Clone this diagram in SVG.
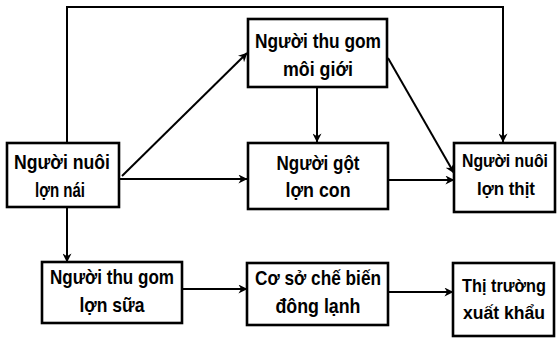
<svg xmlns="http://www.w3.org/2000/svg" width="557" height="339" viewBox="0 0 557 339">
<defs>
<style>
.box{fill:#fff;stroke:#000;stroke-width:2.6}
.t{font-family:"Liberation Sans",Arial,sans-serif;font-weight:bold;font-size:21px;fill:#000;text-anchor:middle}
.s{font-size:17.5px}
.c{fill:none;stroke:#000;stroke-width:2}
</style>
<marker id="ah" viewBox="0 0 10 10" refX="9.5" refY="5" markerWidth="9" markerHeight="9" markerUnits="userSpaceOnUse" orient="auto">
<path d="M0,0 L10,5 L0,10 L3,5 Z" fill="#000"/>
</marker>
</defs>
<rect width="557" height="339" fill="#fff"/>
<g id="connectors">
<path class="c" d="M67,143 V7 H503 V142" marker-end="url(#ah)"/>
<path class="c" d="M122,176 L247,53" marker-end="url(#ah)"/>
<path class="c" d="M317,87 V142" marker-end="url(#ah)"/>
<path class="c" d="M388,58 L454,173" marker-end="url(#ah)"/>
<path class="c" d="M119,179 H247" marker-end="url(#ah)"/>
<path class="c" d="M388,180 H454" marker-end="url(#ah)"/>
<path class="c" d="M67,207 V262" marker-end="url(#ah)"/>
<path class="c" d="M182,289 H247" marker-end="url(#ah)"/>
<path class="c" d="M388,292 H453" marker-end="url(#ah)"/>
</g>
<g id="n1">
<rect class="box" x="7" y="143" width="112" height="64"/>
<text class="t" x="62" y="169" textLength="96" lengthAdjust="spacingAndGlyphs">Người nuôi</text>
<text class="t" x="60" y="197" textLength="50" lengthAdjust="spacingAndGlyphs">lợn nái</text>
</g>
<g id="n2">
<rect class="box" x="248" y="19" width="139" height="68"/>
<text class="t" x="318" y="48" textLength="126" lengthAdjust="spacingAndGlyphs">Người thu gom</text>
<text class="t" x="318" y="76" textLength="70" lengthAdjust="spacingAndGlyphs">môi giới</text>
</g>
<g id="n3">
<rect class="box" x="248" y="143" width="140" height="66"/>
<text class="t" x="318" y="170" textLength="83" lengthAdjust="spacingAndGlyphs">Người gột</text>
<text class="t" x="318" y="197" textLength="65" lengthAdjust="spacingAndGlyphs">lợn con</text>
</g>
<g id="n4">
<rect class="box" x="454" y="143" width="101" height="69"/>
<text class="t s" x="505" y="167" textLength="86" lengthAdjust="spacingAndGlyphs">Người nuôi</text>
<text class="t s" x="506" y="195" textLength="58" lengthAdjust="spacingAndGlyphs">lợn thịt</text>
</g>
<g id="n5">
<rect class="box" x="42" y="262" width="140" height="61"/>
<text class="t" x="112" y="284" textLength="124" lengthAdjust="spacingAndGlyphs">Người thu gom</text>
<text class="t" x="112" y="312" textLength="65" lengthAdjust="spacingAndGlyphs">lợn sữa</text>
</g>
<g id="n6">
<rect class="box" x="247" y="263" width="141" height="62"/>
<text class="t" x="318" y="285" textLength="126" lengthAdjust="spacingAndGlyphs">Cơ sở chế biến</text>
<text class="t" x="318" y="313" textLength="85" lengthAdjust="spacingAndGlyphs">đông lạnh</text>
</g>
<g id="n7">
<rect class="box" x="453" y="263" width="101" height="73"/>
<text class="t s" x="504" y="292" textLength="84" lengthAdjust="spacingAndGlyphs">Thị trường</text>
<text class="t s" x="504" y="319" textLength="82" lengthAdjust="spacingAndGlyphs">xuất khẩu</text>
</g>
</svg>
